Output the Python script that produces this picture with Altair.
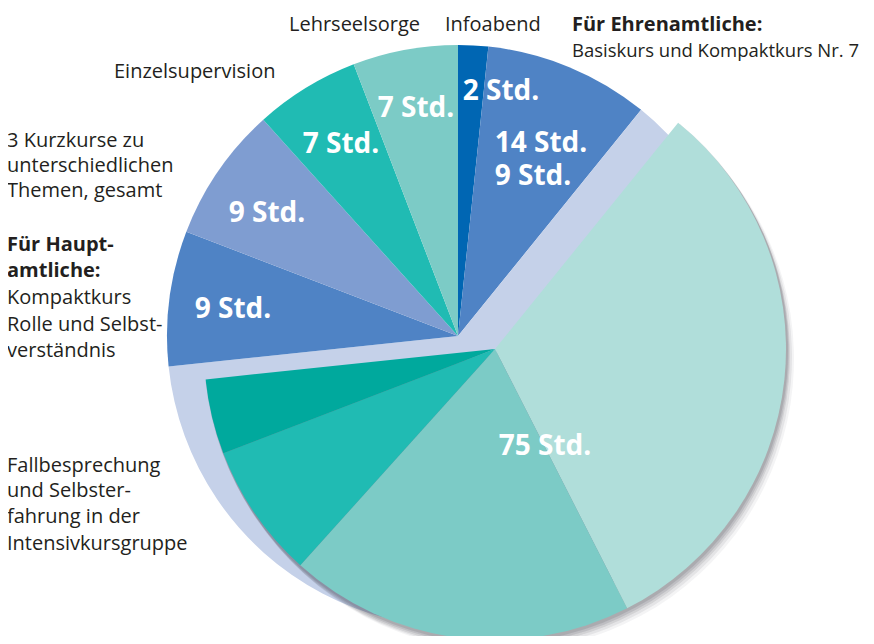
import math
import altair as alt
import pandas as pd

# ---- data ----
main_names = ["Infoabend", "Ehrenamtliche", "Fallbesprechung (Hintergrund)", "Kompaktkurs",
              "Kurzkurse", "Einzelsupervision", "Lehrseelsorge"]
main_values = [2, 11, 75, 9, 9, 7, 7]
main_colors = ["#0066b3", "#4f83c5", "#c5d1e9", "#4f83c5", "#7f9dd1", "#20bbb3", "#7ccbc6"]

group_names = ["Teil 1", "Teil 2", "Teil 3", "Teil 4"]
group_values = [38, 23, 9, 5]
group_colors = ["#b0deda", "#7ccbc6", "#20bbb3", "#00a99d"]
group_start = 13  # group starts after Infoabend + Ehrenamtliche

value_texts = ["2 Std.", "14 Std.", "9 Std.", "75 Std.", "9 Std.", "9 Std.", "7 Std.", "7 Std."]
value_x = [501, 541, 533, 545, 233, 267, 341, 416]
value_y = [100, 152, 185, 455, 318, 222, 153, 117]

reg_texts = ["Lehrseelsorge", "Infoabend", "Basiskurs und Kompaktkurs Nr. 7", "Einzelsupervision",
             "3 Kurzkurse zu", "unterschiedlichen", "Themen, gesamt",
             "Kompaktkurs", "Rolle und Selbst-", "verständnis",
             "Fallbesprechung", "und Selbster-", "fahrung in der", "Intensivkursgruppe"]
reg_x = [289, 445, 572, 114, 7, 7, 7, 7, 7, 7, 7, 7, 7, 7]
reg_y = [31, 31, 57, 78, 147, 172, 197, 304, 331, 357, 472, 497, 523, 550]
reg_size = [20, 20, 18.5, 20, 20, 20, 20, 20, 20, 20, 20, 20, 20, 20]

bold_texts = ["Für Ehrenamtliche:", "Für Haupt-", "amtliche:"]
bold_x = [572, 7, 7]
bold_y = [31, 251, 277]

TOTAL = 120
W, H = 858, 628

# ---- tables ----
def cum(values, start=0):
    s, e = [], []
    acc = start
    for v in values:
        s.append(acc)
        acc += v
        e.append(acc)
    return s, e

ms, me = cum(main_values)
main_df = pd.DataFrame({"name": main_names, "value": main_values, "color": main_colors,
                        "start": ms, "end": me})
gs, ge = cum(group_values, group_start)
group_df = pd.DataFrame({"name": group_names, "value": group_values, "color": group_colors,
                         "start": gs, "end": ge})
shadow_df = pd.DataFrame({"start": [group_start], "end": [group_start + sum(group_values)]})

theta_scale = alt.Scale(domain=[0, TOTAL], range=[0, 2 * math.pi])
xs = alt.Scale(domain=[8, 8 + W], range=[0, W])
ys = alt.Scale(domain=[8, 8 + H], range=[0, H])

R = 291
MCX, MCY = 450, 328
GCX, GCY = 487, 341

main = alt.Chart(main_df).mark_arc(radius=R).encode(
    theta=alt.Theta("start:Q", scale=theta_scale, stack=False),
    theta2="end:Q",
    color=alt.Color("color:N", scale=None),
    x=alt.value(MCX), y=alt.value(MCY),
)

shadows = []
for dx, dy, op in [(1, 2, 0.16), (2, 4, 0.14), (3, 6, 0.12), (5, 8, 0.09), (7, 10, 0.06)]:
    shadows.append(
        alt.Chart(shadow_df).mark_arc(radius=R + 1, color="#4a4a55", opacity=op).encode(
            theta=alt.Theta("start:Q", scale=theta_scale, stack=False),
            theta2="end:Q",
            x=alt.value(GCX + dx), y=alt.value(GCY + dy),
        )
    )

group = alt.Chart(group_df).mark_arc(radius=R).encode(
    theta=alt.Theta("start:Q", scale=theta_scale, stack=False),
    theta2="end:Q",
    color=alt.Color("color:N", scale=None),
    x=alt.value(GCX), y=alt.value(GCY),
)

val_df = pd.DataFrame({"t": value_texts, "x": value_x, "y": value_y})
vals = alt.Chart(val_df).mark_text(font="Open Sans", fontSize=28, fontWeight="bold", color="white",
                                   align="center", baseline="alphabetic").encode(
    x=alt.X("x:Q", scale=xs, axis=None), y=alt.Y("y:Q", scale=ys, axis=None), text="t:N")

reg_df = pd.DataFrame({"t": reg_texts, "x": reg_x, "y": reg_y, "s": reg_size})
regs = alt.Chart(reg_df).mark_text(font="Open Sans", color="#231f20",
                                   align="left", baseline="alphabetic").encode(
    x=alt.X("x:Q", scale=xs, axis=None), y=alt.Y("y:Q", scale=ys, axis=None), text="t:N",
    size=alt.Size("s:Q", scale=None))

bold_df = pd.DataFrame({"t": bold_texts, "x": bold_x, "y": bold_y})
bolds = alt.Chart(bold_df).mark_text(font="Open Sans", fontSize=20, fontWeight="bold", color="#231f20",
                                     align="left", baseline="alphabetic").encode(
    x=alt.X("x:Q", scale=xs, axis=None), y=alt.Y("y:Q", scale=ys, axis=None), text="t:N")

chart = alt.layer(main, *shadows, group, vals, regs, bolds).properties(
    width=W, height=H, padding=0, autosize="none"
).configure_view(strokeWidth=0)

chart.save("out.html", embed_options={"renderer": "svg", "actions": False})
